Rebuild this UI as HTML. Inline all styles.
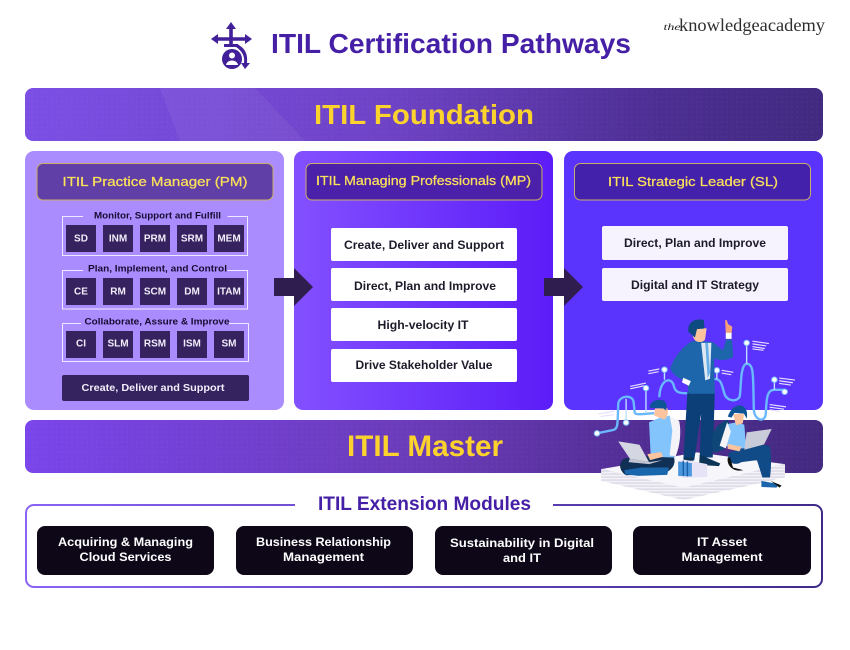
<!DOCTYPE html>
<html><head><meta charset="utf-8"><style>
html,body{margin:0;padding:0;background:#fff;width:850px;height:650px;overflow:hidden}
svg{display:block}
text{font-family:"Liberation Sans",sans-serif;text-anchor:middle}
.b{font-weight:bold}
.c text{fill:#f1edfa;font-size:10px;font-weight:bold}
.g{fill:#160b30;font-size:9.5px;font-weight:bold}
.d{fill:#1d1a2a;font-size:11.5px;font-weight:bold}
.h{fill:#fbe05a;font-size:13px;stroke:#fbe05a;stroke-width:.25px}
.w{fill:#fff;font-size:12px;font-weight:bold}
</style></head><body>
<svg width="850" height="650" viewBox="0 0 850 650" xmlns="http://www.w3.org/2000/svg">
<defs>
<linearGradient id="ban" x1="0" x2="1" y1="0" y2="0"><stop offset="0" stop-color="#7b4fe4"/><stop offset=".45" stop-color="#6f43c6"/><stop offset=".8" stop-color="#4c2e92"/><stop offset="1" stop-color="#412a80"/></linearGradient>
<linearGradient id="mas" x1="0" x2="1" y1="0" y2="0"><stop offset="0" stop-color="#7a45ea"/><stop offset=".5" stop-color="#6a3bb8"/><stop offset=".8" stop-color="#4f2c90"/><stop offset="1" stop-color="#432a80"/></linearGradient>
<linearGradient id="mp" x1="0" x2="1" y1="0" y2="0"><stop offset="0" stop-color="#8350ff"/><stop offset="1" stop-color="#5c1cf8"/></linearGradient>
<linearGradient id="ext" x1="0" x2="1" y1="0" y2="0"><stop offset="0" stop-color="#8a63f5"/><stop offset="1" stop-color="#3f2a8a"/></linearGradient>
<pattern id="dots" width="5" height="5" patternUnits="userSpaceOnUse"><circle cx="2" cy="2" r=".9" fill="#fff" opacity=".035"/></pattern>
<pattern id="strip" width="8" height="9" patternUnits="userSpaceOnUse"><rect width="8" height="9" fill="#f4f2f8"/><rect y="5" width="8" height="3" fill="#d2d0dd"/></pattern>
</defs>
<rect width="850" height="650" fill="#fff"/>

<!-- header icon -->
<g fill="#41209a" stroke="none">
<path d="M231 22l5 7h-3.200v18h-3.600v-18h-3.200z"/>
<path d="M211 39l7-5v3.200h27v-3.200l7 5-7 5v-3.200h-27v3.200z"/>
<path d="M224 44h14v3h-14z"/>
<circle cx="232" cy="59" r="10"/>
<path d="M237 44c8 4 11 10 10 19h3l-5 6-4-6h3c1-7-2-12-8-16z"/>
<circle cx="232" cy="55.500" r="3" fill="#fff"/><path d="M226 65c1-6 11-6 12 0z" fill="#fff"/>
</g>
<text class="b" x="451" y="53" font-size="28" fill="#4520a6" textLength="360" lengthAdjust="spacingAndGlyphs">ITIL Certification Pathways</text>
<text x="672" y="30" font-size="9" font-style="italic" style="font-family:'Liberation Serif',serif" fill="#222" textLength="17" lengthAdjust="spacingAndGlyphs">the</text>
<text x="752" y="31" font-size="18" style="font-family:'Liberation Serif',serif" fill="#2e2e2e" textLength="146" lengthAdjust="spacingAndGlyphs">knowledgeacademy</text>

<!-- foundation -->
<rect x="25" y="88" width="798" height="53" rx="8" fill="url(#ban)"/>
<rect x="25" y="88" width="798" height="53" rx="8" fill="url(#dots)"/>
<path d="M160 88h95l50 53h-125z" fill="#fff" opacity=".05"/>
<text class="b" x="424" y="124" font-size="28" fill="#fcd32c" textLength="220" lengthAdjust="spacingAndGlyphs">ITIL Foundation</text>

<!-- panels -->
<rect x="25" y="151" width="259" height="259" rx="9" fill="#ab8cff"/>
<rect x="294" y="151" width="259" height="259" rx="9" fill="url(#mp)"/>
<rect x="564" y="151" width="259" height="259" rx="9" fill="#5a33fd"/>

<rect x="37" y="163.500" width="236" height="36.500" rx="6" fill="#6040a6" stroke="#c9ad6a"/>
<rect x="306" y="163.500" width="236" height="36.500" rx="6" fill="#4a21a8" stroke="#c9ad6a"/>
<rect x="574.500" y="163.500" width="236" height="36.500" rx="6" fill="#4421ab" stroke="#c9ad6a"/>
<text class="h" x="155" y="186" textLength="185" lengthAdjust="spacingAndGlyphs">ITIL Practice Manager (PM)</text>
<text class="h" x="423.500" y="185" textLength="215" lengthAdjust="spacingAndGlyphs">ITIL Managing Professionals (MP)</text>
<text class="h" x="693" y="186" textLength="170" lengthAdjust="spacingAndGlyphs">ITIL Strategic Leader (SL)</text>

<!-- group frames -->
<g fill="none" stroke="#efe9ff" stroke-width="1">
<path d="M83 216.500h-20.500v39h185v-39h-20"/>
<path d="M83 270.500h-20.500v38.500h185v-38.500h-20"/>
<path d="M81 323.500h-18.500v38h186v-38h-20"/>
</g>
<text class="g" x="157.500" y="218.500" textLength="127" lengthAdjust="spacingAndGlyphs">Monitor, Support and Fulfill</text>
<text class="g" x="157.500" y="271.500" textLength="139" lengthAdjust="spacingAndGlyphs">Plan, Implement, and Control</text>
<text class="g" x="157" y="324.500" textLength="145" lengthAdjust="spacingAndGlyphs">Collaborate, Assure &amp; Improve</text>

<g class="c">
<g fill="#36225f">
<rect x="66" y="225" width="30" height="27"/><rect x="103" y="225" width="30" height="27"/><rect x="140" y="225" width="30" height="27"/><rect x="177" y="225" width="30" height="27"/><rect x="214" y="225" width="30" height="27"/>
<rect x="66" y="278" width="30" height="27"/><rect x="103" y="278" width="30" height="27"/><rect x="140" y="278" width="30" height="27"/><rect x="177" y="278" width="30" height="27"/><rect x="214" y="278" width="30" height="27"/>
<rect x="66" y="331" width="30" height="27"/><rect x="103" y="331" width="30" height="27"/><rect x="140" y="331" width="30" height="27"/><rect x="177" y="331" width="30" height="27"/><rect x="214" y="331" width="30" height="27"/>
</g>
<text x="81" y="241.500">SD</text><text x="118" y="241.500">INM</text><text x="155" y="241.500">PRM</text><text x="192" y="241.500">SRM</text><text x="229" y="241.500">MEM</text>
<text x="81" y="294.500">CE</text><text x="118" y="294.500">RM</text><text x="155" y="294.500">SCM</text><text x="192" y="294.500">DM</text><text x="229" y="294.500">ITAM</text>
<text x="81" y="346.500">CI</text><text x="118" y="346.500">SLM</text><text x="155" y="346.500">RSM</text><text x="192" y="346.500">ISM</text><text x="229" y="346.500">SM</text>
</g>
<rect x="62" y="375" width="187" height="26" rx="2" fill="#35235f"/>
<text x="153" y="391" font-size="10.500" class="b" fill="#f1edfa" textLength="143" lengthAdjust="spacingAndGlyphs">Create, Deliver and Support</text>

<!-- arrows -->
<path d="M274 278h20v-10l19 19-19 19v-10h-20z" fill="#2f1d50"/>
<path d="M544 278h20v-10l19 19-19 19v-10h-20z" fill="#2f1d50"/>

<!-- MP cards -->
<g fill="#fff">
<rect x="331" y="228" width="186" height="33" rx="2"/><rect x="331" y="268" width="186" height="33" rx="2"/><rect x="331" y="308" width="186" height="33" rx="2"/><rect x="331" y="349" width="186" height="33" rx="2"/>
</g>
<text class="d" x="424" y="249" textLength="160" lengthAdjust="spacingAndGlyphs">Create, Deliver and Support</text>
<text class="d" x="425" y="290" textLength="142" lengthAdjust="spacingAndGlyphs">Direct, Plan and Improve</text>
<text class="d" x="423" y="329" textLength="91" lengthAdjust="spacingAndGlyphs">High-velocity IT</text>
<text class="d" x="424" y="369" textLength="137" lengthAdjust="spacingAndGlyphs">Drive Stakeholder Value</text>

<!-- SL cards -->
<g fill="#f6f3ff">
<rect x="602" y="226" width="186" height="34" rx="2"/><rect x="602" y="268" width="186" height="33" rx="2"/>
</g>
<text class="d" x="695" y="247" textLength="142" lengthAdjust="spacingAndGlyphs">Direct, Plan and Improve</text>
<text class="d" x="695" y="289" textLength="128" lengthAdjust="spacingAndGlyphs">Digital and IT Strategy</text>

<!-- master -->
<rect x="25" y="420" width="798" height="53" rx="8" fill="url(#mas)"/>
<rect x="25" y="420" width="798" height="53" rx="8" fill="url(#dots)"/>
<text class="b" x="425" y="456" font-size="30" fill="#fcd32c" textLength="156" lengthAdjust="spacingAndGlyphs">ITIL Master</text>

<!-- extension -->
<rect x="26" y="505" width="796" height="82" rx="8" fill="#fff" stroke="url(#ext)" stroke-width="2"/>
<rect x="295" y="498" width="258" height="12" fill="#fff"/>
<text class="b" x="424.500" y="510" font-size="19" fill="#4520a6" textLength="213" lengthAdjust="spacingAndGlyphs">ITIL Extension Modules</text>
<g fill="#0d0718">
<rect x="37" y="526" width="177" height="49" rx="8"/><rect x="236" y="526" width="177" height="49" rx="8"/><rect x="435" y="526" width="177" height="49" rx="8"/><rect x="633" y="526" width="178" height="49" rx="8"/>
</g>
<text class="w" x="125.500" y="546" textLength="135" lengthAdjust="spacingAndGlyphs">Acquiring &amp; Managing</text>
<text class="w" x="125.500" y="561" textLength="92" lengthAdjust="spacingAndGlyphs">Cloud Services</text>
<text class="w" x="323.500" y="546" textLength="135" lengthAdjust="spacingAndGlyphs">Business Relationship</text>
<text class="w" x="323.500" y="561" textLength="81" lengthAdjust="spacingAndGlyphs">Management</text>
<text class="w" x="522" y="547" textLength="144" lengthAdjust="spacingAndGlyphs">Sustainability in Digital</text>
<text class="w" x="522" y="562" textLength="38" lengthAdjust="spacingAndGlyphs">and IT</text>
<text class="w" x="722" y="546" textLength="50" lengthAdjust="spacingAndGlyphs">IT Asset</text>
<text class="w" x="722" y="561" textLength="81" lengthAdjust="spacingAndGlyphs">Management</text>

<!-- illustration -->
<g transform="translate(560 300) scale(.3425 .335)">
<g fill="none" stroke="#6ab8ff" stroke-width="7">
<path d="M108 398L155 388C170 385 168 370 170 310C172 285 212 280 215 305L218 335C220 345 240 340 275 338"/>
<path d="M290 290C292 235 325 228 332 255C336 275 345 280 385 278"/>
<path d="M445 236C470 232 472 250 480 280C488 302 515 305 524 290C530 270 524 195 545 190C568 190 563 230 566 330C570 360 595 365 600 345C604 320 598 268 625 268H655"/>
</g>
<g fill="none" stroke="#bfe0ff" stroke-width="4">
<path d="M193 295V366M251 263V335M305 208V238M458 210V236M545 128V190M626 238V268"/>
</g>
<g fill="#fff" stroke="#7fc4ff" stroke-width="3">
<circle cx="108" cy="398" r="8"/><circle cx="193" cy="366" r="8"/><circle cx="251" cy="263" r="8"/><circle cx="305" cy="208" r="8"/><circle cx="458" cy="210" r="8"/><circle cx="545" cy="128" r="8"/><circle cx="626" cy="238" r="8"/><circle cx="656" cy="274" r="8"/>
</g>
<g stroke="#e5e0ff" stroke-width="3.500">
<path d="M562 123l48 7M562 131l40 6M562 139l36 6M562 146l32 4M472 210l34 6M472 218l28 5M640 233l46 6M640 241l40 6M640 249l34 5M612 312l48 7M612 320l42 6M612 328l30 4M205 258l46-10M205 265l40-9M258 212l32-6M258 220l30-6M112 340l48-8M118 348l40-6"/>
</g>
<!-- platform -->
<path d="M120 505L360 558L657 490V530L360 597L120 540Z" fill="url(#strip)"/>
<path d="M120 505L400 455L657 490L360 560Z" fill="#f7f6fb"/>
<!-- standing man -->
<path d="M372 275L360 478H392L412 340L408 470H446L452 275Z" fill="#0c3f78"/>
<path d="M408 462l60 26-4 8-58-4zM362 470h28v10h-28z" fill="#0c3457"/>
<path d="M388 122C360 135 330 175 322 205C328 222 350 238 372 245L375 280L452 280L450 175C470 182 495 180 506 168L502 118L485 118L476 150L445 125Z" fill="#1d66ac"/>
<path d="M412 128L442 128L438 235L424 240Z" fill="#dfe7f0"/>
<path d="M424 128h8l6 90-7 14z" fill="#66aee8"/>
<path d="M388 75c-5 15-2 35 6 45 8 8 28 8 30-5l4-30z" fill="#fbc49f"/>
<path d="M375 95c-4-30 20-42 45-35l2 25-22 2-6 25z" fill="#0d4a82"/>
<path d="M484 98l-2-38 5 0 4 12 12 8-2 20z" fill="#f5a078"/><rect x="484" y="98" width="17" height="18" fill="#fff"/>
<path d="M360 232l22 10-6 14-20-10z" fill="#fff"/>
<!-- left man -->
<path d="M260 365L290 352L320 345L338 362L334 470L265 470Z" fill="#84c4fd"/>
<path d="M320 345l28 16c6 30 4 70-10 105l-18-2 8-75z" fill="#f4f4f8"/>
<path d="M275 345l30 12c10-10 12-22 8-35l-36 2z" fill="#fbc49f"/>
<path d="M262 322c0-28 50-35 50-4l-2 12-8-6-32-2z" fill="#0d5596"/>
<path d="M185 475c50-15 90-5 148-5 8 30-20 50-50 50l-90 3c-12-5-28-30-8-48z" fill="#103055"/>
<path d="M188 508l50-8 80 0-5 22-85 3-38-5z" fill="#1a66ac"/>
<path d="M170 422l62 10 28 52-56-10z" fill="#d4d7e2"/><path d="M204 474l56 10 40-6-40 12-60-6z" fill="#c2c4d2"/>
<path d="M255 460l40-6 6 14-38 10z" fill="#fbc49f"/>
<!-- woman -->
<path d="M490 358c-45 15-55 60-40 98l30-10 20-60z" fill="#0d4677"/>
<path d="M490 370L515 365L538 372L544 445L480 435Z" fill="#84c4fd"/>
<path d="M488 365l-22 70 18 8 15-50z" fill="#f5f5f8"/>
<path d="M505 340h32l-3 28-20 6z" fill="#fbc49f"/>
<path d="M490 348c15-48 65-42 55 6l-8-15-28-2-8 14z" fill="#0d5596"/>
<path d="M495 455c60-20 110-30 118-15 6 40 2 75 0 90h-22l-16-52-45 6c-25 15-48-5-35-29z" fill="#104a87"/>
<path d="M490 470c-5 25 18 45 45 38l-30-8-8-30z" fill="#111"/>
<path d="M588 540l52 10-8 10-44-2z" fill="#1a66ac"/><path d="M615 540l32 14-6 6z" fill="#111"/>
<path d="M545 395l73-10-22 46-58 16z" fill="#c9ccd8"/>
<path d="M490 430l40 8-6 14-35-8z" fill="#fbc49f"/>
<!-- books -->
<path d="M345 482l15-6 70 14v38l-70 3-15-5z" fill="#e5e3f5"/>
<path d="M345 482l40 5v40l-40-2z" fill="#4a97de"/>
<path d="M360 480v45M372 482v45" stroke="#1a5fa5" stroke-width="4"/>
</g>
</svg>
</body></html>
